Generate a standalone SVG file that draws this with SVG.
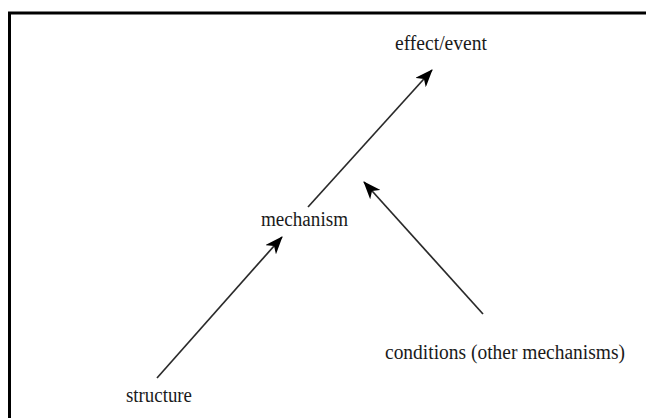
<svg xmlns="http://www.w3.org/2000/svg" width="646" height="418" viewBox="0 0 646 418">
<style>
.lbl{font-family:"Liberation Serif","Times New Roman",serif;font-size:20.5px;fill:#1a1a1a}
.con{stroke:#2a2a2a;stroke-width:1.7;fill:none}
</style>
<defs>
<marker id="ah" viewBox="0 0 18 14" refX="17" refY="7" markerWidth="18" markerHeight="14" markerUnits="userSpaceOnUse" orient="auto">
<path d="M0,0 L18,7 L0,14 L5,7 Z" fill="#000"/>
</marker>
</defs>
<rect width="646" height="418" fill="#fff"/>
<path d="M9.5 430 V13 H660" fill="none" stroke="#000" stroke-width="3"/>
<g id="connectors">
<line class="con" x1="308" y1="207" x2="432" y2="70" marker-end="url(#ah)"/>
<line class="con" x1="157" y1="378" x2="282" y2="237" marker-end="url(#ah)"/>
<line class="con" x1="483" y1="314" x2="364" y2="182" marker-end="url(#ah)"/>
</g>
<g id="effect"><text class="lbl" x="395" y="50" textLength="92" lengthAdjust="spacingAndGlyphs">effect/event</text></g>
<g id="mechanism"><text class="lbl" x="261" y="226" textLength="87" lengthAdjust="spacingAndGlyphs">mechanism</text></g>
<g id="conditions"><text class="lbl" x="385" y="359" textLength="240" lengthAdjust="spacingAndGlyphs">conditions (other mechanisms)</text></g>
<g id="structure"><text class="lbl" x="126" y="402" textLength="66" lengthAdjust="spacingAndGlyphs">structure</text></g>
</svg>
